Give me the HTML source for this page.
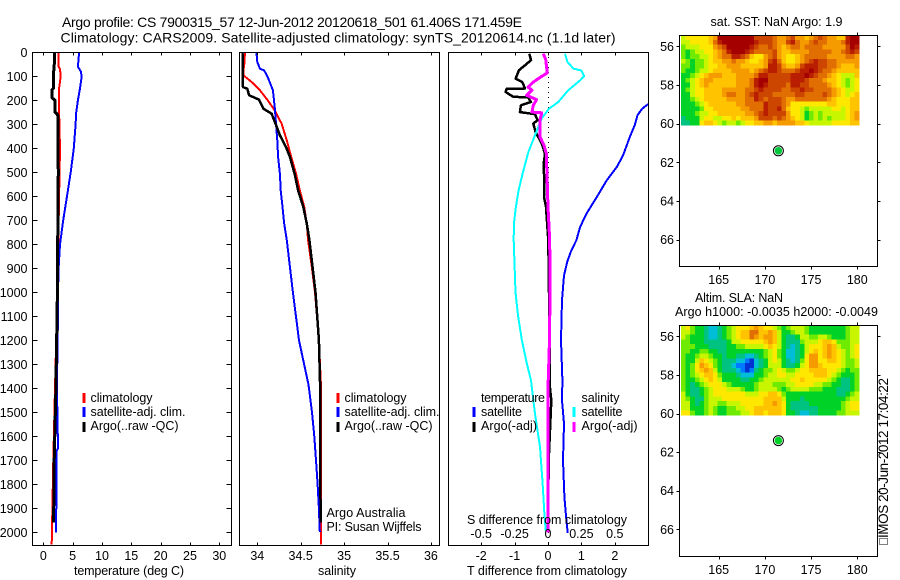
<!DOCTYPE html>
<html lang="en">
<head>
<meta charset="utf-8">
<title>Argo profile 7900315_57</title>
<style>
html,body{margin:0;padding:0;background:#fff;width:900px;height:580px;overflow:hidden}
svg{display:block;font-family:"Liberation Sans",sans-serif;fill:#000}
text{font-size:12.5px;fill:#000;stroke:none}
.t{font-size:14px}
.frame{fill:none;stroke:#000;stroke-width:1;shape-rendering:crispEdges}
.tick{stroke:#000;stroke-width:1;shape-rendering:crispEdges}
.ser{fill:none;shape-rendering:crispEdges;stroke-linejoin:round}
.cell{shape-rendering:crispEdges}
.leg{stroke-width:3;shape-rendering:crispEdges}
</style>
</head>
<body>
<svg id="chart" width="900" height="580" viewBox="0 0 900 580" xmlns="http://www.w3.org/2000/svg">
  <defs>
    <clipPath id="clip-temp"><rect x="32" y="52" width="199" height="493"/></clipPath>
    <clipPath id="clip-sal"><rect x="240" y="52" width="199" height="493"/></clipPath>
    <clipPath id="clip-diff"><rect x="448" y="52" width="201" height="493"/></clipPath>
  </defs>

  <text class="t" x="62" y="27" textLength="460" lengthAdjust="spacing">Argo profile: CS 7900315_57 12-Jun-2012 20120618_501 61.406S 171.459E</text>
  <text class="t" x="60.5" y="42.5" textLength="555" lengthAdjust="spacing">Climatology: CARS2009. Satellite-adjusted climatology: synTS_20120614.nc (1.1d later)</text>

  <g id="layer-marks"></g>

  <rect class="frame" x="32.5" y="52.5" width="199" height="493"/>
  <rect class="frame" x="239.5" y="52.5" width="200" height="493"/>
  <rect class="frame" x="448.5" y="52.5" width="200" height="493"/>
  <rect class="frame" x="679.5" y="35.5" width="198" height="231"/>
  <rect class="frame" x="679.5" y="325.5" width="198" height="231"/>

  <g id="layer-axes"></g>

  <text x="74" y="575" textLength="110" lengthAdjust="spacing">temperature (deg C)</text>
  <text x="318" y="575" textLength="38" lengthAdjust="spacing">salinity</text>
  <text x="467" y="575" textLength="160" lengthAdjust="spacing">T difference from climatology</text>
  <text x="467" y="524" textLength="160" lengthAdjust="spacing">S difference from climatology</text>

  <g>
    <line class="leg" x1="84" x2="84" y1="393" y2="403" stroke="#ff0000"/>
    <line class="leg" x1="84" x2="84" y1="407" y2="417" stroke="#0000ff"/>
    <line class="leg" x1="84" x2="84" y1="422" y2="432" stroke="#000000"/>
    <text x="90.5" y="402" textLength="62" lengthAdjust="spacing">climatology</text>
    <text x="90.5" y="416" textLength="95" lengthAdjust="spacing">satellite-adj. clim.</text>
    <text x="90.5" y="430" textLength="88" lengthAdjust="spacing">Argo(..raw -QC)</text>
  </g>
  <g>
    <line class="leg" x1="338" x2="338" y1="393" y2="403" stroke="#ff0000"/>
    <line class="leg" x1="338" x2="338" y1="407" y2="417" stroke="#0000ff"/>
    <line class="leg" x1="338" x2="338" y1="422" y2="432" stroke="#000000"/>
    <text x="344.5" y="402" textLength="62" lengthAdjust="spacing">climatology</text>
    <text x="344.5" y="416" textLength="95" lengthAdjust="spacing">satellite-adj. clim.</text>
    <text x="344.5" y="430" textLength="88" lengthAdjust="spacing">Argo(..raw -QC)</text>
    <text x="326.5" y="517" textLength="79" lengthAdjust="spacing">Argo Australia</text>
    <text x="326.5" y="531" textLength="95" lengthAdjust="spacing">PI: Susan Wijffels</text>
  </g>
  <g>
    <line class="leg" x1="474" x2="474" y1="407" y2="417" stroke="#0000ff"/>
    <line class="leg" x1="474" x2="474" y1="422" y2="432" stroke="#000000"/>
    <line class="leg" x1="574" x2="574" y1="407" y2="417" stroke="#00ffff"/>
    <line class="leg" x1="574" x2="574" y1="422" y2="432" stroke="#ff00ff"/>
    <text x="481" y="402" textLength="64" lengthAdjust="spacing">temperature</text>
    <text x="481" y="416" textLength="41" lengthAdjust="spacing">satellite</text>
    <text x="481" y="430" textLength="56" lengthAdjust="spacing">Argo(-adj)</text>
    <text x="581.5" y="402" textLength="38" lengthAdjust="spacing">salinity</text>
    <text x="581.5" y="416" textLength="41" lengthAdjust="spacing">satellite</text>
    <text x="581.5" y="430" textLength="56" lengthAdjust="spacing">Argo(-adj)</text>
  </g>

  <text x="710.5" y="26" textLength="132" lengthAdjust="spacing">sat. SST: NaN Argo: 1.9</text>
  <text x="695" y="302" textLength="88" lengthAdjust="spacing">Altim. SLA: NaN</text>
  <text x="675" y="316" textLength="203" lengthAdjust="spacing">Argo h1000: -0.0035 h2000: -0.0049</text>

  <rect x="879.5" y="538.5" width="8" height="6" fill="none" stroke="#000" stroke-width="1" stroke-dasharray="1 1" shape-rendering="crispEdges"/>
  <text transform="translate(888 538) rotate(-90)" style="font-size:13.5px" textLength="160" lengthAdjust="spacing">IMOS 20-Jun-2012 17:04:22</text>
</svg>

<script>
// ---------- axis tick data ----------
const depthTicks = [0,100,200,300,400,500,600,700,800,900,1000,1100,1200,1300,1400,1500,1600,1700,1800,1900,2000];
const tempTicks = [0,5,10,15,20,25,30];
const salTicks = [34,34.5,35,35.5,36];
const salTickLabels = ['34','34.5','35','35.5','36'];
const diffTicks = [-2,-1,0,1,2];
const diffTickLabels = ['-2','-1','0','1','2'];
const sDiffTicks = [-0.5,-0.25,0,0.25,0.5];
const sDiffTickLabels = ['-0.5','-0.25','0','0.25','0.5'];
const lonTicks = [165,170,175,180];
const latTicks = [56,58,60,62,64,66];

// ---------- temperature panel ----------
const tempClimDepth = [0,60,70,100,150,200,300,400,600,1000,1400,1700,1900,2050];
const tempClimValues = [2.55,2.6,2.85,2.96,2.7,2.65,2.75,2.85,2.7,2.4,2.0,1.7,1.55,1.43];
const tempSatDepth = [0,60,80,100,150,200,250,300,400,500,600,700,800,900,1000,1200,1400,1500,1650,1660,1900,1905,2000];
const tempSatValues = [6.1,5.9,6.4,6.55,6.25,5.9,5.6,5.5,5.2,4.67,4.04,3.4,2.85,2.6,2.5,2.45,2.3,2.4,2.5,2.28,2.25,2.17,2.17];
const tempArgoDepth = [0,70,80,150,155,190,195,200,250,255,265,300,400,500,600,1000,1400,1700,1960];
const tempArgoValues = [1.9,1.85,1.75,1.75,1.5,1.5,1.75,2.0,2.0,2.3,2.5,2.5,2.5,2.55,2.5,2.4,2.15,1.85,1.75];

// ---------- salinity panel ----------
const salClimDepth = [0,50,75,96,124,158,200,242,297,367,436,506,575,644,714,783,900,1000,1200,1400,1700,2050];
const salClimValues = [33.858,33.85,33.84,33.84,33.935,34.03,34.12,34.2,34.28,34.34,34.39,34.446,34.49,34.54,34.57,34.585,34.63,34.665,34.71,34.735,34.735,34.735];
const salSatDepth = [0,40,68,76,103,158,228,297,367,436,506,575,644,714,783,1000,1200,1385,1500,1600,1700,1800,1900,1999];
const salSatValues = [33.99,34,34.03,34.08,34.12,34.18,34.2,34.215,34.23,34.24,34.26,34.27,34.29,34.31,34.34,34.41,34.48,34.59,34.63,34.657,34.676,34.695,34.71,34.72];
const salArgoDepth = [0,145,152,179,197,235,256,297,346,394,436,506,575,644,714,783,1000,1200,1400,1700,1960];
const salArgoValues = [33.83,33.835,33.885,33.905,34.02,34.07,34.165,34.21,34.26,34.33,34.376,34.43,34.47,34.53,34.57,34.6,34.67,34.71,34.725,34.725,34.73];

// ---------- difference panel (T in deg C, S in psu) ----------
const dTSatDepth = [190,218,235,262,303,353,429,478,533,603,671,728,783,825,870,930,1033,1200,1367,1450,1547,1700,1853,1950,2003];
const dTSatValues = [3.4,2.98,2.82,2.68,2.6,2.45,2.25,2.06,1.76,1.46,1.16,0.96,0.85,0.7,0.58,0.48,0.42,0.39,0.43,0.42,0.48,0.45,0.49,0.55,0.59];
const dTArgoDepth = [6,33,54,75,110,124,151,152,165,186,187,207,221,249,258,283,297,332,380,422,464,547,603,644,783,1000,1400,1450,1700,1990];
const dTArgoValues = [-0.56,-0.51,-0.69,-0.87,-0.97,-0.77,-0.69,-1.24,-1.27,-1.04,-0.6,-0.51,-0.81,-0.84,-0.39,-0.31,-0.44,-0.37,-0.19,-0.09,-0.13,-0.11,-0.12,-0.06,0.01,0.03,0.06,0.1,0.02,0];
const dSSatDepth = [6,40,68,76,99,117,158,207,235,276,346,415,506,575,644,714,783,1000,1100,1200,1300,1367,1506,1645,1783,1922,1992];
const dSSatValues = [0.127,0.145,0.19,0.25,0.27,0.24,0.152,0.077,0.0075,-0.047,-0.097,-0.147,-0.19,-0.22,-0.24,-0.255,-0.257,-0.243,-0.224,-0.195,-0.157,-0.127,-0.097,-0.06,-0.042,-0.027,-0.017];
const dSArgoDepth = [6,30,86,105,124,145,158,179,197,221,249,252,283,353,387,422,644,783,1000,1200,1400,2000];
const dSArgoValues = [-0.035,-0.017,-0.005,-0.06,-0.11,-0.15,-0.12,-0.16,-0.085,-0.11,-0.12,-0.047,-0.06,-0.06,-0.03,-0.013,0,0.013,0.015,0.011,0,0];

// ---------- maps ----------
const profileLon = 171.459;
const profileLat = -61.406;
const gridLonStart = 160.93;
const gridLonStep = 0.494;
const gridLatStart = 55.42;
const gridLatStep = 0.246;

const sstGrid = [
[3,4,4,4,4,4,5,6,10,10,10,10,10,10,10,10,8,8,8,8,7,6,6,7,8,6,6,5,6,7,8,7,6,6,5,5,9,10,10],
[3,3,4,4,4,4,5,7,9,10,10,10,10,10,10,10,9,8,8,8,7,6,6,8,9,7,6,6,7,8,7,7,6,6,6,7,9,10,10],
[2,3,3,3,4,4,4,6,7,8,10,10,10,10,10,9,8,7,7,8,7,6,5,6,7,7,6,7,7,7,7,6,6,6,6,6,8,10,9],
[2,1,2,3,3,4,4,5,6,7,9,10,10,10,9,8,7,7,7,7,8,6,5,5,6,6,6,6,7,7,7,7,7,6,6,7,8,9,8],
[2,1,2,2,3,3,4,5,6,7,7,9,9,8,7,5,4,4,6,7,8,6,5,4,4,5,6,7,7,7,7,7,6,6,6,6,7,7,6],
[3,2,1,2,2,3,4,5,5,6,6,7,6,6,5,4,4,5,6,8,9,7,5,4,4,5,6,7,8,9,8,8,7,7,6,6,6,6,6],
[2,2,1,2,2,3,4,4,5,5,6,6,6,5,5,5,5,5,6,9,9,8,6,5,5,6,8,9,9,9,8,8,7,7,6,5,5,5,6],
[2,1,1,2,3,3,4,5,5,5,5,6,6,6,6,5,6,7,8,9,9,8,7,7,7,8,9,9,10,9,8,7,7,6,5,5,5,5,5],
[1,1,2,3,4,5,6,6,6,5,5,5,6,6,6,6,7,9,9,8,8,8,8,8,9,9,9,10,9,8,7,7,6,5,4,3,3,3,5],
[1,2,3,4,5,6,6,5,5,5,5,5,6,6,6,7,9,10,10,8,8,8,8,8,9,9,9,8,7,7,7,6,5,5,4,3,2,3,4],
[1,1,3,4,5,6,5,5,5,5,5,5,6,6,6,7,9,10,9,8,8,8,8,7,9,9,8,8,7,7,7,7,6,5,4,3,2,3,4],
[1,2,3,4,4,5,5,5,5,6,6,6,6,6,7,7,8,9,8,8,8,8,7,7,8,8,9,8,8,7,7,7,7,6,5,4,3,3,4],
[1,1,3,4,4,5,5,5,5,6,7,7,6,6,7,8,9,8,8,8,7,7,7,7,7,8,8,7,7,7,7,8,7,6,5,4,3,4,5],
[1,1,2,3,4,5,5,5,5,5,6,6,6,6,7,7,9,8,7,8,8,8,7,6,6,7,7,7,7,7,7,7,6,5,4,4,4,5,5],
[1,1,1,2,3,4,5,5,5,5,5,5,6,6,7,7,7,7,9,8,8,8,7,6,4,4,4,4,4,4,4,4,5,5,4,4,4,5,5],
[1,1,1,1,2,4,4,5,5,5,5,5,5,6,6,7,7,7,9,8,8,9,7,5,4,4,3,2,3,3,3,3,3,4,4,3,4,5,5],
[1,1,1,2,3,3,4,4,5,5,5,5,5,5,6,6,7,8,9,8,8,8,8,6,4,4,3,1,2,3,2,3,3,3,3,3,4,5,6],
[0,1,1,1,3,4,4,3,3,4,4,5,4,5,5,5,6,8,8,8,7,8,7,6,5,4,3,1,2,3,2,3,2,3,3,3,4,5,6],
[0,0,1,1,4,5,5,4,3,2,3,3,2,3,4,4,5,5,6,6,5,6,6,6,6,5,5,4,3,3,3,3,3,4,4,4,4,5,5]
];

const slaGrid = [
[3,4,2,1,1,0,-1,-1,0,1,2,3,4,4,4,5,6,5,4,4,3,2,1,2,3,3,3,2,1,1,1,1,1,1,1,1,2,3,3],
[3,3,2,1,1,0,-1,-1,0,1,2,3,4,5,5,7,7,5,5,6,5,3,1,1,2,3,3,2,1,1,1,1,1,1,1,1,2,3,3],
[3,2,1,1,1,0,-1,-1,0,1,2,3,4,5,5,7,6,5,6,6,5,3,1,0,0,1,3,3,2,2,3,3,2,1,1,1,2,3,3],
[2,2,1,1,1,0,0,0,0,0,1,3,3,4,4,4,4,4,5,6,5,3,1,0,0,0,2,3,3,3,4,5,5,4,2,2,2,3,3],
[2,2,2,1,1,1,0,0,0,0,1,1,2,2,3,3,3,3,4,5,4,3,1,0,-1,0,1,3,4,4,4,5,6,5,3,2,2,3,4],
[2,2,1,1,2,2,1,1,0,0,1,1,1,1,1,1,1,1,2,3,4,2,1,-1,-1,0,1,3,4,5,4,5,6,5,4,3,2,3,4],
[2,1,1,2,3,3,2,1,1,0,1,1,0,0,-1,-1,0,1,2,3,4,2,1,-1,-1,0,1,4,6,6,4,5,6,5,4,3,2,3,4],
[2,1,1,3,5,4,3,2,1,0,0,0,-1,-1,-2,-3,-1,0,1,3,4,3,1,0,-1,0,2,4,6,6,4,4,5,5,4,3,2,2,3],
[2,1,2,4,6,5,4,2,1,0,0,-1,-2,-2,-3,-3,-1,0,1,3,3,3,1,0,0,1,3,4,6,6,5,4,4,4,4,3,2,2,3],
[2,1,2,4,5,6,5,3,1,0,0,0,-1,-2,-3,-2,0,1,2,2,3,4,3,2,2,3,4,4,5,5,5,5,4,4,3,2,1,2,2],
[2,1,2,3,4,5,5,4,2,1,1,1,0,-1,-1,-1,1,1,2,3,3,4,4,3,3,4,4,4,4,5,5,5,4,3,2,1,1,1,2],
[2,1,1,2,3,4,5,4,3,1,1,1,1,0,0,1,1,2,3,3,3,3,3,3,4,4,5,4,4,4,4,4,3,2,1,0,0,1,2],
[2,1,0,1,2,3,4,4,4,3,2,1,1,1,1,1,2,3,3,3,2,2,2,3,3,4,4,4,4,3,3,2,2,1,1,0,0,1,2],
[2,1,0,0,1,2,3,4,4,4,3,3,3,2,1,1,2,3,3,3,3,2,1,2,3,3,3,3,2,2,2,1,1,1,0,0,0,1,2],
[3,1,0,0,1,2,3,4,4,4,4,4,4,4,3,3,3,4,4,5,5,4,2,1,1,1,1,1,1,1,1,1,1,1,0,0,1,2,3],
[3,2,1,0,0,2,3,3,3,4,4,4,4,4,4,4,4,4,5,5,5,5,3,1,1,1,0,1,1,1,1,1,1,1,1,1,2,3,3],
[3,3,1,0,1,2,3,3,2,2,3,3,3,4,4,4,4,4,5,5,6,5,4,1,0,0,0,0,1,1,1,1,1,1,1,2,3,4,4],
[3,3,1,1,1,2,3,2,1,1,2,2,3,3,4,4,5,5,5,5,5,5,4,1,0,0,0,0,0,0,1,1,1,1,1,2,3,4,4],
[4,4,2,1,1,2,3,2,1,1,2,2,2,3,3,4,5,5,4,5,5,5,4,1,1,0,-1,-1,0,0,1,1,1,1,2,2,3,3,3]
];

// colour ramp: level index runs from -3 (deep blue) to 10 (dark red)
const rampColors = [[0,50,210],[0,120,255],[0,190,215],[0,195,130],[0,210,40],[110,235,0],[200,245,0],[255,232,0],[255,195,0],[245,155,0],[225,110,0],[205,70,0],[185,30,0],[165,0,0]];

// ---------- axis functions ----------
const NS = 'http://www.w3.org/2000/svg';
const marks = document.getElementById('layer-marks');
const axes = document.getElementById('layer-axes');
function yDepth(d){ return 52.3 + d * 0.24; }
function xTemp(t){ return 43.3 + t * 5.867; }
function xSal(s){ return 257.3 + (s - 34) * 86.8; }
function xDiffT(t){ return 548 + t * 33.4; }
function xDiffS(s){ return 548 + s * 133.6; }
function xLon(lon){ return 718.7 + (lon - 165) * 9.24; }
function ySstLat(lat){ return 46.3 + (lat - 56) * 19.33; }
function ySlaLat(lat){ return 336.3 + (lat - 56) * 19.3; }
function rampColor(v){
  const i = Math.max(0, Math.min(rampColors.length - 1, v + 3));
  const lo = Math.floor(i), hi = Math.ceil(i), f = i - lo;
  const c = rampColors[lo].map((a, k) => Math.round(a + (rampColors[hi][k] - a) * f));
  return 'rgb(' + c.join(',') + ')';
}
function make(tag, attrs, parent){
  const el = document.createElementNS(NS, tag);
  for (const k in attrs) el.setAttribute(k, attrs[k]);
  parent.appendChild(el);
  return el;
}
function seriesPoints(depths, values, xFn){
  return depths.map((d, i) => xFn(values[i]).toFixed(1) + ',' + yDepth(d).toFixed(1)).join(' ');
}
function drawSeries(name, depths, values, xFn, color, width, clip){
  const el = make('polyline', {class:'ser', points:seriesPoints(depths, values, xFn), stroke:color, 'stroke-width':width, 'clip-path':'url(#' + clip + ')'}, marks);
  
  
}
function tickLine(x1, y1, x2, y2){
  const el = make('line', {class:'tick', x1:Math.round(x1) + 0.5, y1:Math.round(y1) + 0.5, x2:Math.round(x2) + 0.5, y2:Math.round(y2) + 0.5}, axes);
  
  
}
function tickLabel(x, y, str, anchor){
  const el = make('text', {x:x, y:y, 'text-anchor':anchor}, axes);
  el.textContent = str;
  
  
}
function xAxis(ticks, labels, xFn, top, bottom, labelY){
  ticks.forEach((t, i) => {
    const x = xFn(t);
    tickLine(x, top, x, top + 3);
    tickLine(x, bottom, x, bottom - 3);
    tickLabel(x, labelY, labels[i], 'middle');
  });
}
function drawGrid(name, grid, yFn){
  const g = make('g', {}, marks);
  
  
  grid.forEach((row, r) => {
    row.forEach((v, c) => {
      const lon = gridLonStart + c * gridLonStep;
      const lat = gridLatStart + r * gridLatStep;
      const x0 = xLon(lon), x1 = xLon(lon + gridLonStep);
      const y0 = yFn(lat), y1 = yFn(lat + gridLatStep);
      const cell = make('rect', {class:'cell', x:x0.toFixed(2), y:y0.toFixed(2), width:(x1 - x0 + 0.3).toFixed(2), height:(y1 - y0 + 0.3).toFixed(2), fill:rampColor(v)}, g);
      
      
    });
  });
}
function drawMarker(name, yFn, color){
  const x = xLon(profileLon), y = yFn(-profileLat);
  const ring = make('circle', {cx:x.toFixed(1), cy:y.toFixed(1), r:5, fill:'#fff', stroke:'#000', 'stroke-width':1}, marks);
  
  
  const dot = make('circle', {cx:x.toFixed(1), cy:y.toFixed(1), r:3.8, fill:color}, marks);
  
  
}

// ---------- draw series ----------
drawSeries('temperature-climatology-line', tempClimDepth, tempClimValues, xTemp, '#ff0000', 2, 'clip-temp');
drawSeries('temperature-satellite-line', tempSatDepth, tempSatValues, xTemp, '#0000ff', 2, 'clip-temp');
drawSeries('temperature-argo-line', tempArgoDepth, tempArgoValues, xTemp, '#000000', 3, 'clip-temp');

drawSeries('salinity-climatology-line', salClimDepth, salClimValues, xSal, '#ff0000', 2, 'clip-sal');
drawSeries('salinity-satellite-line', salSatDepth, salSatValues, xSal, '#0000ff', 2, 'clip-sal');
drawSeries('salinity-argo-line', salArgoDepth, salArgoValues, xSal, '#000000', 2.5, 'clip-sal');

const zeroLine = make('line', {x1:xDiffT(0) + 0.5, x2:xDiffT(0) + 0.5, y1:52, y2:545, stroke:'#000', 'stroke-width':1, 'stroke-dasharray':'1 4', 'shape-rendering':'crispEdges'}, marks);


drawSeries('t-difference-satellite-line', dTSatDepth, dTSatValues, xDiffT, '#0000ff', 2, 'clip-diff');
drawSeries('t-difference-argo-line', dTArgoDepth, dTArgoValues, xDiffT, '#000000', 2.5, 'clip-diff');
drawSeries('s-difference-satellite-line', dSSatDepth, dSSatValues, xDiffS, '#00ffff', 2, 'clip-diff');
drawSeries('s-difference-argo-line', dSArgoDepth, dSArgoValues, xDiffS, '#ff00ff', 3, 'clip-diff');

drawGrid('sst-heatmap', sstGrid, ySstLat);
drawMarker('sst-profile-marker', ySstLat, '#00c83c');
drawGrid('sla-heatmap', slaGrid, ySlaLat);
drawMarker('sla-profile-marker', ySlaLat, '#00d228');

// ---------- draw axes ----------
depthTicks.forEach(d => {
  const y = yDepth(d);
  tickLine(32, y, 37, y);
  tickLine(231, y, 226, y);
  tickLabel(27.5, y + 4.5, String(d), 'end');
});
xAxis(tempTicks, tempTicks.map(String), xTemp, 52, 545, 560);
xAxis(salTicks, salTickLabels, xSal, 52, 545, 560);
xAxis(diffTicks, diffTickLabels, xDiffT, 52, 545, 560);
sDiffTicks.forEach((s, i) => tickLabel(xDiffS(s), 538, sDiffTickLabels[i], 'middle'));

function mapAxes(yFn, top, bottom){
  lonTicks.forEach(lon => {
    const x = xLon(lon);
    tickLine(x, top, x, top - 3);
    tickLine(x, bottom, x, bottom + 3);
    tickLabel(x, bottom + 18, String(lon), 'middle');
  });
  latTicks.forEach(lat => {
    const y = yFn(lat);
    tickLine(679, y, 676, y);
    tickLine(877, y, 880, y);
    tickLabel(674, y + 4.5, String(lat), 'end');
  });
}
mapAxes(ySstLat, 35, 266);
mapAxes(ySlaLat, 325, 556);
</script>
</body>
</html>
